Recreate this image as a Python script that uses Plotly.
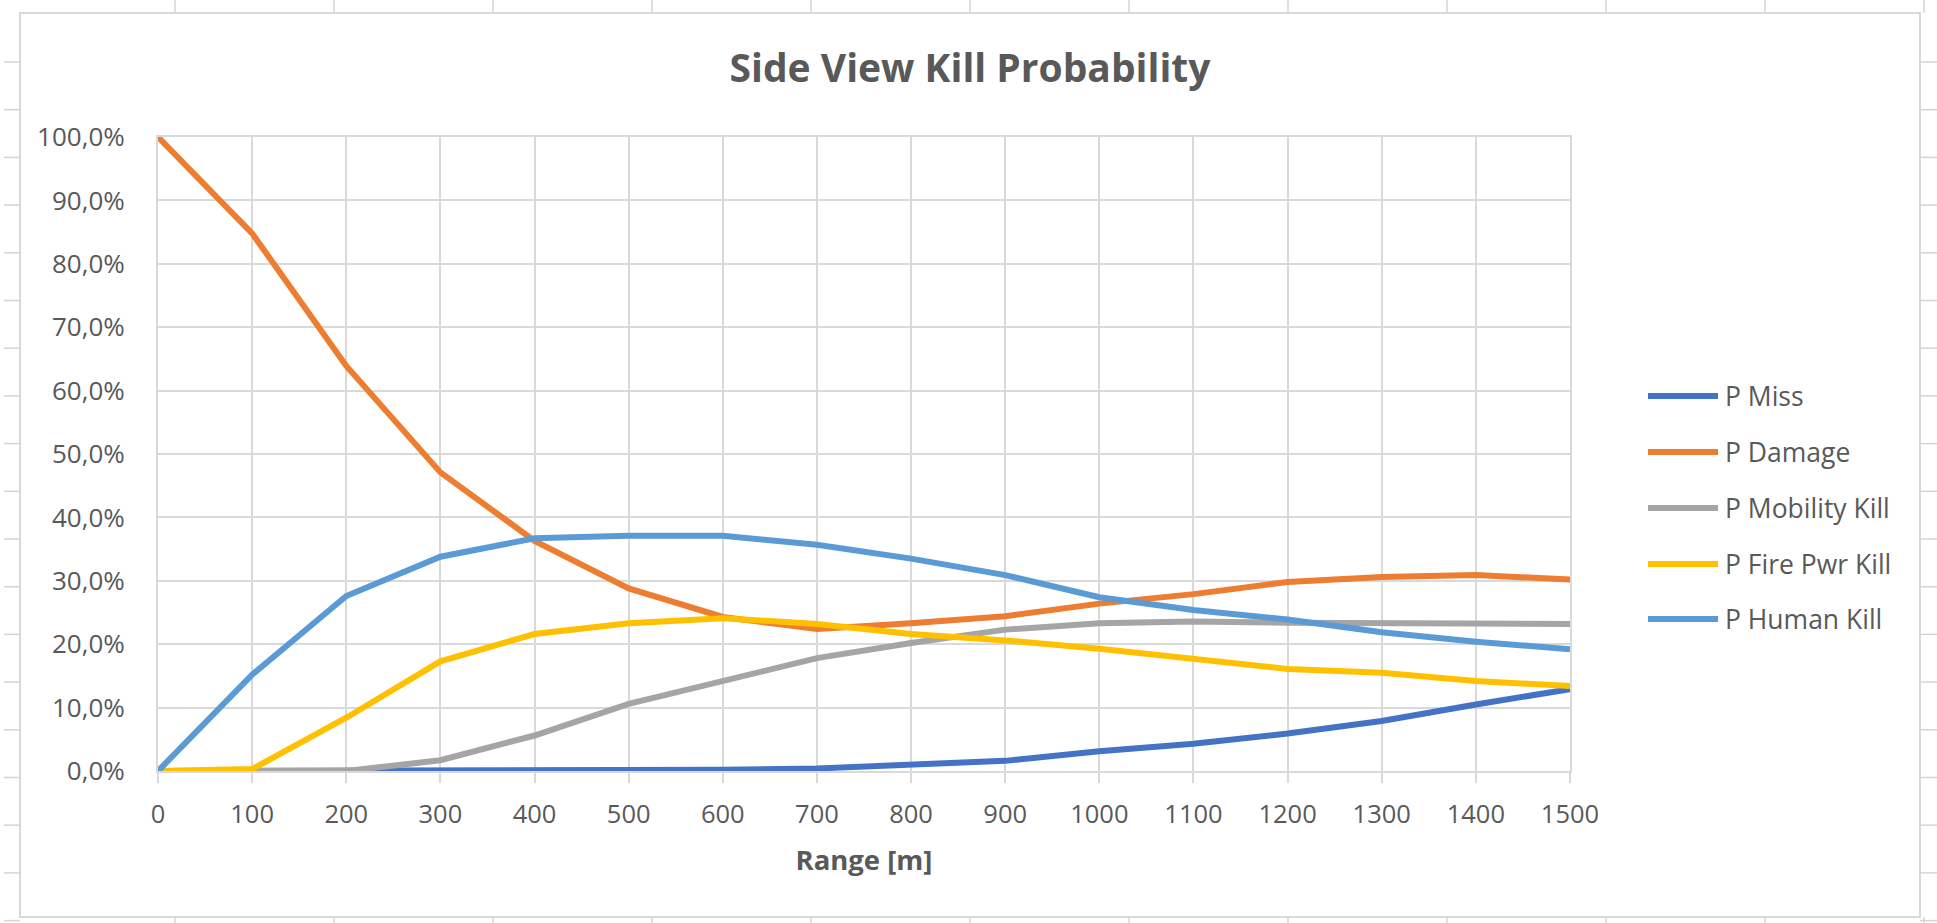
import plotly.graph_objects as go

# ---- data ----
range_m = [0, 100, 200, 300, 400, 500, 600, 700, 800, 900, 1000, 1100, 1200, 1300, 1400, 1500]
p_miss = [0.0, 0.0, 0.0, 0.0, 0.05, 0.1, 0.2, 0.4, 0.9, 1.6, 3.1, 4.3, 5.9, 7.9, 10.5, 12.9]
p_damage = [100.0, 84.8, 63.9, 47.1, 36.3, 28.8, 24.3, 22.4, 23.3, 24.4, 26.4, 27.9, 29.8, 30.6, 30.9, 30.2]
p_mobility = [0.0, 0.0, 0.0, 1.7, 5.6, 10.6, 14.2, 17.8, 20.2, 22.3, 23.3, 23.6, 23.4, 23.3, 23.3, 23.2]
p_fire_pwr = [0.0, 0.3, 8.4, 17.3, 21.6, 23.3, 24.1, 23.2, 21.6, 20.6, 19.3, 17.6, 16.1, 15.5, 14.2, 13.4]
p_human = [0.0, 15.2, 27.6, 33.8, 36.7, 37.1, 37.1, 35.7, 33.5, 30.9, 27.4, 25.4, 23.9, 21.9, 20.4, 19.2]

series_names = ["P Miss", "P Damage", "P Mobility Kill", "P Fire Pwr Kill", "P Human Kill"]
series_values = [p_miss, p_damage, p_mobility, p_fire_pwr, p_human]
series_colors = ["#4472C4", "#ED7D31", "#A5A5A5", "#FFC000", "#5B9BD5"]

x_ticks = list(range(0, 1501, 100))
y_ticks = [i / 10 for i in range(0, 11)]

# ---- layout geometry (pixels) ----
W, H = 1937, 923
L, R, T, B = 158, 1570, 137, 771
FONT = "Open Sans"
TXT = "#595959"
GRID = "#D9D9D9"
LEGEND_Y = [396, 452, 508, 564, 619]   # legend row centres (px)
LEGEND_X0, LEGEND_X1, LEGEND_TX = 1648, 1718, 1723


def px_x(p):
    return (p - L) / (R - L)


def px_y(p):
    return (B - p) / (B - T)


fig = go.Figure()
for name, vals, col in zip(series_names, series_values, series_colors):
    fig.add_trace(go.Scatter(
        x=range_m, y=[v / 100 for v in vals], name=name, mode="lines",
        line=dict(color=col, width=6), showlegend=False,
    ))

shapes = []
annotations = []
# chart-area frame
shapes.append(dict(type="rect", xref="paper", yref="paper",
                   x0=px_x(20), x1=px_x(1920), y0=px_y(917), y1=px_y(13),
                   line=dict(color=GRID, width=2), layer="below"))
# spreadsheet cell lines peeking around the chart
cell_col = "#D4D4D4"
cx = 175
while cx < W:
    shapes.append(dict(type="line", xref="paper", yref="paper",
                       x0=px_x(cx), x1=px_x(cx), y0=px_y(0), y1=px_y(13),
                       line=dict(color=cell_col, width=1.5)))
    shapes.append(dict(type="line", xref="paper", yref="paper",
                       x0=px_x(cx), x1=px_x(cx), y0=px_y(917), y1=px_y(923),
                       line=dict(color=cell_col, width=1.5)))
    cx += 159
ry = 62.0
while ry < H:
    shapes.append(dict(type="line", xref="paper", yref="paper",
                       x0=px_x(4), x1=px_x(20), y0=px_y(ry), y1=px_y(ry),
                       line=dict(color=cell_col, width=1.5)))
    shapes.append(dict(type="line", xref="paper", yref="paper",
                       x0=px_x(1920), x1=px_x(1937), y0=px_y(ry), y1=px_y(ry),
                       line=dict(color=cell_col, width=1.5)))
    ry += 47.7

# legend (long line samples like the original)
for name, col, ly in zip(series_names, series_colors, LEGEND_Y):
    shapes.append(dict(type="line", xref="paper", yref="paper",
                       x0=px_x(LEGEND_X0), x1=px_x(LEGEND_X1), y0=px_y(ly), y1=px_y(ly),
                       line=dict(color=col, width=6)))
    annotations.append(dict(text=name, xref="paper", yref="paper",
                            x=px_x(LEGEND_TX), y=px_y(ly), xanchor="left", yanchor="middle",
                            showarrow=False, font=dict(family=FONT, size=26.5, color=TXT)))

fig.update_layout(
    width=W, height=H, autosize=False,
    margin=dict(l=L, r=W - R, t=T, b=H - B, pad=0),
    paper_bgcolor="white", plot_bgcolor="white",
    separators=",.",
    showlegend=False,
    font=dict(family=FONT, color=TXT, size=25),
    title=dict(text="<b>Side View Kill Probability</b>",
               font=dict(family=FONT, size=39, color=TXT),
               x=970 / W, xref="container", xanchor="center",
               y=1 - 68 / H, yref="container", yanchor="middle"),
    xaxis=dict(range=[0, 1500], tickvals=x_ticks, ticks="outside", ticklen=10,
               tickwidth=2, tickcolor=GRID, showgrid=True, gridcolor=GRID, gridwidth=2,
               showline=True, linecolor=GRID, linewidth=2, mirror=True, zeroline=False,
               tickfont=dict(family=FONT, size=25.5, color=TXT), ticklabelstandoff=9,
               title=dict(text="<b>Range [m]</b>", standoff=22,
                          font=dict(family=FONT, size=27.5, color=TXT))),
    yaxis=dict(range=[0, 1], tickvals=y_ticks, tickformat=".1%", ticks="",
               showgrid=True, gridcolor=GRID, gridwidth=2,
               showline=True, linecolor=GRID, linewidth=2, mirror=True, zeroline=False,
               tickfont=dict(family=FONT, size=26, color=TXT), ticklabelstandoff=26),
    shapes=shapes,
    annotations=annotations,
)

fig.write_html("out.html")
